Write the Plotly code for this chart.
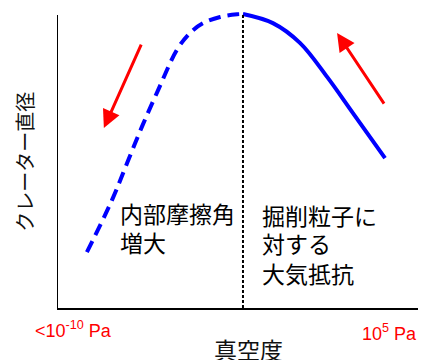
import plotly.graph_objects as go

# Curve data (abstract units: x = vacuum level index 0-100, y = relative crater diameter, peak = 100)
dashed_x = [8.1, 14.9, 19.0, 23.0, 27.4, 32.5, 36.0, 39.6, 44.2, 48.8, 50.4]
dashed_y = [19.0, 36.7, 49.3, 61.6, 74.1, 87.8, 93.5, 96.9, 99.0, 99.9, 100.0]
solid_x = [50.4, 58.5, 65.9, 73.2, 80.2, 88.9]
solid_y = [100.0, 96.9, 90.1, 78.6, 66.3, 51.0]
peak_x = 50.4
y_axis_top = 99.7

# Arrows: (tail_x, tail_y, head_x, head_y)
arrow_left = [23.0, 90.1, 12.7, 61.2]
arrow_right = [88.9, 69.0, 75.9, 93.5]

left_text = ["内部摩擦角", "増大"]
left_text_y = [32.3, 22.4]
right_text = ["掘削粒子に", "対する", "大気抵抗"]
right_text_y = [31.6, 22.1, 11.9]
x_low_label = "&lt;10<sup>-10</sup> Pa"
x_high_label = "10<sup>5</sup> Pa"
x_title = "真空度"
y_title = "クレーター直径"

JP = "Noto Sans CJK JP"
fig = go.Figure()
fig.add_trace(go.Scatter(x=dashed_x, y=dashed_y, mode="lines",
                         line=dict(color="#0000ff", width=4, dash="12px,7px", shape="spline"),
                         hoverinfo="skip"))
fig.add_trace(go.Scatter(x=solid_x, y=solid_y, mode="lines",
                         line=dict(color="#0000ff", width=4, shape="spline"),
                         hoverinfo="skip"))

# vertical dashed line at the peak
fig.add_shape(type="line", x0=peak_x, x1=peak_x, y0=0, y1=max(dashed_y), xref="x", yref="y",
              line=dict(color="black", width=2, dash="3px,2px"))
# y axis line
fig.add_shape(type="line", x0=0, x1=0, y0=0, y1=y_axis_top, xref="x", yref="y",
              line=dict(color="black", width=2))

for a in (arrow_left, arrow_right):
    fig.add_annotation(x=a[2], y=a[3], ax=a[0], ay=a[1], xref="x", yref="y",
                       axref="x", ayref="y", text="", showarrow=True,
                       arrowhead=2, arrowsize=1.2, arrowwidth=3, arrowcolor="#ff0000")

for t, yy in zip(left_text, left_text_y):
    fig.add_annotation(x=16.5, y=yy, text=t, xref="x", yref="y",
                       xanchor="left", yanchor="middle", showarrow=False,
                       font=dict(family=JP, size=23, color="#000000"))
for t, yy in zip(right_text, right_text_y):
    fig.add_annotation(x=55.0, y=yy, text=t, xref="x", yref="y",
                       xanchor="left", yanchor="middle", showarrow=False,
                       font=dict(family=JP, size=23, color="#000000"))

fig.add_annotation(x=0.046, y=-0.073, text=x_low_label, xref="paper", yref="paper",
                   showarrow=False, xanchor="center", yanchor="middle",
                   font=dict(family="Liberation Sans, Arial", size=18, color="#ff0000"))
fig.add_annotation(x=0.902, y=-0.08, text=x_high_label, xref="paper", yref="paper",
                   showarrow=False, xanchor="center", yanchor="middle",
                   font=dict(family="Liberation Sans, Arial", size=18, color="#ff0000"))
fig.add_annotation(x=0.518, y=-0.136, text=x_title, xref="paper", yref="paper",
                   showarrow=False, xanchor="center", yanchor="middle",
                   font=dict(family=JP, size=23, color="#111111"))
fig.add_annotation(x=-0.087, y=0.487, text=y_title, xref="paper", yref="paper",
                   showarrow=False, textangle=-90, xanchor="center", yanchor="middle",
                   font=dict(family=JP, size=20, color="#111111"))

fig.update_xaxes(range=[0, 100], showgrid=False, zeroline=False, showticklabels=False,
                 ticks="", showline=True, linecolor="black", linewidth=2)
fig.update_yaxes(range=[0, 102.04], showgrid=False, zeroline=False, showticklabels=False,
                 ticks="", showline=False)
fig.update_layout(width=418, height=352, margin=dict(l=49, r=0, t=0, b=52),
                  plot_bgcolor="white", paper_bgcolor="white", showlegend=False)
fig.write_html("out.html")
